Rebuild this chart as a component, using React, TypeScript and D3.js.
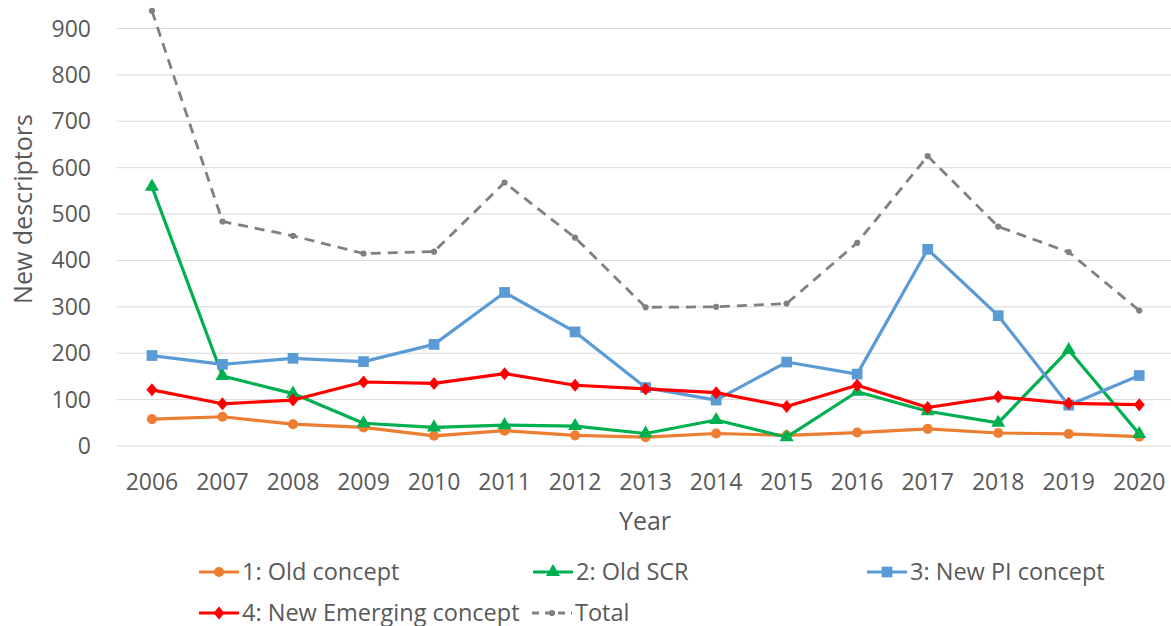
import * as d3 from "d3";

const years = ["2006", "2007", "2008", "2009", "2010", "2011", "2012", "2013", "2014", "2015", "2016", "2017", "2018", "2019", "2020"];
const oldConcept = [58, 63, 47, 40, 22, 33, 23, 19, 27, 23, 29, 37, 28, 26, 20];
const oldSCR = [559, 151, 113, 49, 40, 45, 43, 27, 56, 19, 117, 75, 50, 207, 26];
const newPI = [195, 176, 189, 182, 219, 331, 246, 126, 99, 181, 155, 424, 281, 88, 152];
const newEmerging = [121, 91, 99, 138, 135, 156, 131, 123, 115, 85, 131, 83, 106, 92, 89];
const total = [938, 484, 453, 415, 419, 568, 449, 299, 300, 307, 438, 625, 473, 418, 292];
const yTicks = [0, 100, 200, 300, 400, 500, 600, 700, 800, 900];

type Marker = "circle" | "triangle" | "square" | "diamond" | "dot";

const series: { name: string; values: number[]; color: string; marker: Marker; dash?: string; width: number }[] = [
  { name: "1: Old concept", values: oldConcept, color: "#ED7D31", marker: "circle", width: 3.2 },
  { name: "2: Old SCR", values: oldSCR, color: "#00B050", marker: "triangle", width: 3.2 },
  { name: "3: New PI concept", values: newPI, color: "#5B9BD5", marker: "square", width: 3.2 },
  { name: "4: New Emerging concept", values: newEmerging, color: "#FF0000", marker: "diamond", width: 3.2 },
  { name: "Total", values: total, color: "#808080", marker: "dot", dash: "10,7", width: 2.8 },
];

const W = 1171;
const H = 626;
const font = "'Open Sans', sans-serif";
const textColor = "#595959";

const x = d3.scalePoint<string>().domain(years).range([116.7, 1174.5]).padding(0.5);
const y = d3.scaleLinear().domain([0, 900]).range([446, 28.5]);

function markerPath(m: Marker): string {
  switch (m) {
    case "circle":
      return d3.symbol(d3.symbolCircle, 80)() as string;
    case "triangle":
      return d3.symbol(d3.symbolTriangle, 85)() as string;
    case "square":
      return d3.symbol(d3.symbolSquare, 115)() as string;
    case "diamond":
      return "M0,-6.5L5.5,0L0,6.5L-5.5,0Z";
    default:
      return d3.symbol(d3.symbolCircle, 30)() as string;
  }
}

const legendItems = [
  { s: series[0], lx: 199, ly: 572 },
  { s: series[1], lx: 533, ly: 572 },
  { s: series[2], lx: 867, ly: 572 },
  { s: series[3], lx: 199, ly: 613 },
  { s: series[4], lx: 532, ly: 613 },
];

export default function App() {
  const line = d3
    .line<number>()
    .x((_, i) => x(years[i]) as number)
    .y((d) => y(d));

  return (
    <svg width={W} height={H} style={{ position: "absolute", left: 0, top: 0, background: "#fff" }} fontFamily={font}>
      <rect width={W} height={H} fill="#fff" />
      {yTicks.map((t) => (
        <g key={t}>
          <line x1={116.7} x2={W} y1={y(t)} y2={y(t)} stroke="#D9D9D9" strokeWidth={1} />
          <text x={91} y={y(t)} dy="0.35em" textAnchor="end" fontSize={23} fill={textColor}>
            {t}
          </text>
        </g>
      ))}
      {years.map((yr) => (
        <text key={yr} x={x(yr)} y={490} textAnchor="middle" fontSize={23} fill={textColor}>
          {yr}
        </text>
      ))}
      <text x={645} y={530} textAnchor="middle" fontSize={25} fill={textColor}>
        Year
      </text>
      <text transform="translate(32,209) rotate(-90)" textAnchor="middle" fontSize={25} fill={textColor}>
        New descriptors
      </text>
      {series.map((s) => (
        <g key={s.name}>
          <path d={line(s.values) as string} fill="none" stroke={s.color} strokeWidth={s.width} strokeDasharray={s.dash} strokeLinejoin="round" />
          {s.values.map((v, i) => (
            <path key={i} d={markerPath(s.marker)} transform={`translate(${x(years[i])},${y(v)})`} fill={s.color} />
          ))}
        </g>
      ))}
      {legendItems.map(({ s, lx, ly }) => (
        <g key={s.name}>
          <line x1={lx} x2={lx + 40} y1={ly} y2={ly} stroke={s.color} strokeWidth={s.width} strokeDasharray={s.dash ? "7,6" : undefined} />
          <path d={markerPath(s.marker)} transform={`translate(${lx + 20},${ly})`} fill={s.color} />
          <text x={lx + 43} y={ly} dy="0.35em" fontSize={23.5} fill={textColor}>
            {s.name}
          </text>
        </g>
      ))}
    </svg>
  );
}
